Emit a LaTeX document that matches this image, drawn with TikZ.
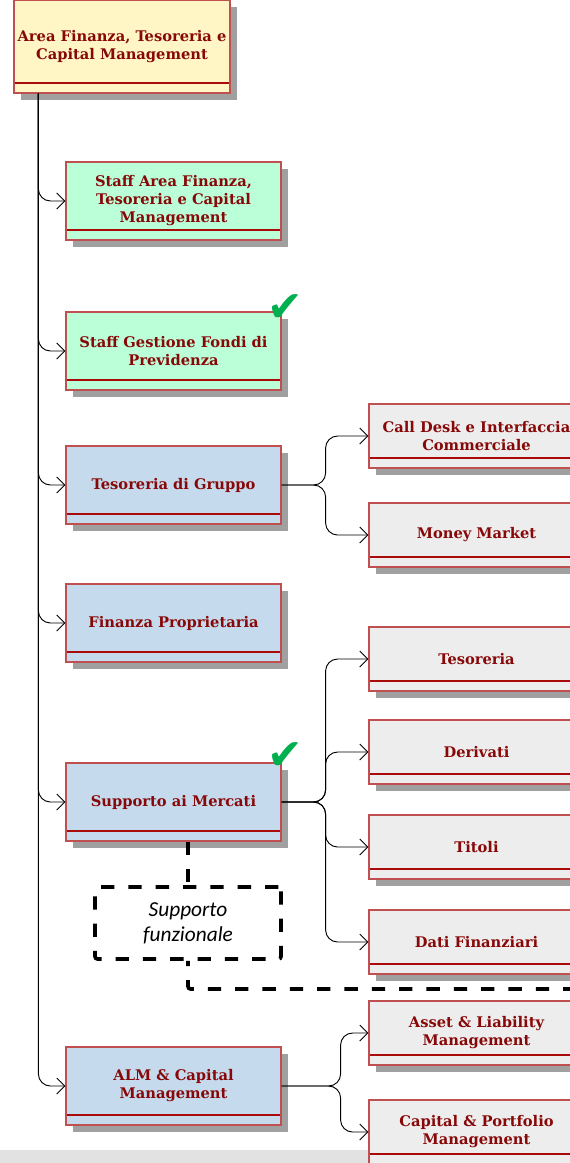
\documentclass[tikz,border=0pt]{standalone}
\usepackage{fontspec}
\setmainfont{DejaVu Serif}
\newfontfamily\notefont{Carlito}
\newfontfamily\tickfont{DejaVu Sans}
\usepackage{tikz}
\newcommand{\boxwidth}{161.25pt}
\newcommand{\boxheight}{58.5pt}
\newcommand{\subheight}{48pt}
\definecolor{rootYellow}{RGB}{255,245,197}
\definecolor{staffGreen}{RGB}{187,255,217}
\definecolor{unitBlue}{RGB}{197,219,237}
\definecolor{subGray}{RGB}{237,237,237}
\definecolor{frameRed}{RGB}{192,80,80}
\definecolor{bandRed}{RGB}{170,10,10}
\definecolor{textRed}{RGB}{135,8,8}
\definecolor{shadowGray}{RGB}{160,160,160}
\definecolor{tickGreen}{RGB}{0,176,80}
\definecolor{footGray}{RGB}{226,226,226}
\usetikzlibrary{arrows.meta,calc}
\tikzset{
  font=\bfseries\fontsize{11}{13.5}\selectfont,
  rect/.style={draw=frameRed,line width=0.9pt,fill=#1,shape=rectangle,minimum width=\boxwidth,minimum height=\boxheight,inner sep=1pt,align=center,text=textRed,
    preaction={fill=shadowGray,transform canvas={shift={(5.25pt,-5.25pt)}}},
    path picture={\draw[bandRed,line width=0.9pt] ([yshift=7.5pt]path picture bounding box.south west) -- ([yshift=7.5pt]path picture bounding box.south east);}},
  sub/.style={rect=subGray,minimum height=\subheight},
  line/.style={draw,-{Straight Barb[length=6pt,width=12pt]},line width=0.7pt,rounded corners=9pt},
  dashline/.style={draw,line width=2.8pt,dash pattern=on 10pt off 10.5pt,rounded corners=2pt},
  note/.style={dashline,minimum width=139.5pt,minimum height=54pt,align=center,font=\notefont\itshape\fontsize{16}{19}\selectfont},
  tick/.style={text=tickGreen,font=\tickfont\fontsize{32}{32}\selectfont,inner sep=0},
}
\begin{document}
\begin{tikzpicture}[x=0.75pt,y=-0.75pt]
  \useasboundingbox (0,0) rectangle (570,1163);
  \clip (0,0) rectangle (570,1163);
  \fill[footGray] (0,1150) rectangle (570,1163);
  % area and its units
  \node (root) [rect=rootYellow,minimum width=162pt,minimum height=69.75pt] at (122,46.5) {Area Finanza, Tesoreria e\\Capital Management};
  \node (staff) [rect=staffGreen] at (173.5,201) {Staff Area Finanza,\\Tesoreria e Capital\\Management};
  \node (gestione) [rect=staffGreen] at (173.5,351) {Staff Gestione Fondi di\\Previdenza};
  \node (tdg) [rect=unitBlue] at (173.5,485) {Tesoreria di Gruppo};
  \node (finprop) [rect=unitBlue] at (173.5,623) {Finanza Proprietaria};
  \node (supporto) [rect=unitBlue] at (173.5,802) {Supporto ai Mercati};
  \node (alm) [rect=unitBlue] at (173.5,1086) {ALM \& Capital\\Management};
  % offices
  \node (calldesk) [sub] at (476.5,436) {Call Desk e Interfaccia\\Commerciale};
  \node (money) [sub] at (476.5,535) {Money Market};
  \node (tesoreria) [sub] at (476.5,659) {Tesoreria};
  \node (derivati) [sub] at (476.5,752) {Derivati};
  \node (titoli) [sub] at (476.5,847) {Titoli};
  \node (dati) [sub] at (476.5,942) {Dati Finanziari};
  \node (asset) [sub] at (476.5,1033) {Asset \& Liability\\Management};
  \node (capital) [sub] at (476.5,1132) {Capital \& Portfolio\\Management};
  % connectors
  \coordinate (trunk) at ([xshift=18.75pt]root.south west);
  \foreach \n in {staff,gestione,tdg,finprop,supporto,alm}
    \path [line] (trunk) |- (\n.west);
  \foreach \n in {calldesk,money}
    \path [line] (tdg.east) -- ++(44,0) |- (\n.west);
  \foreach \n in {tesoreria,derivati,titoli,dati}
    \path [line] (supporto.east) -- ++(44,0) |- (\n.west);
  \foreach \n in {asset,capital}
    \path [line] (alm.east) -- ++(59,0) |- (\n.west);
  % functional support
  \node (func) [note] at (188,923) {Supporto\\funzionale};
  \coordinate (dashend) at (575,989);
  \path [dashline] (supporto.south -| func.north) -- (func.north);
  \path [dashline,dash phase=6pt] (func.south) |- (dashend);
  \node (tick1) [tick] at ([shift={(4,-3)}]gestione.north east) {✔};
  \node (tick2) [tick] at ([shift={(4,-6)}]supporto.north east) {✔};
\end{tikzpicture}
\end{document}
